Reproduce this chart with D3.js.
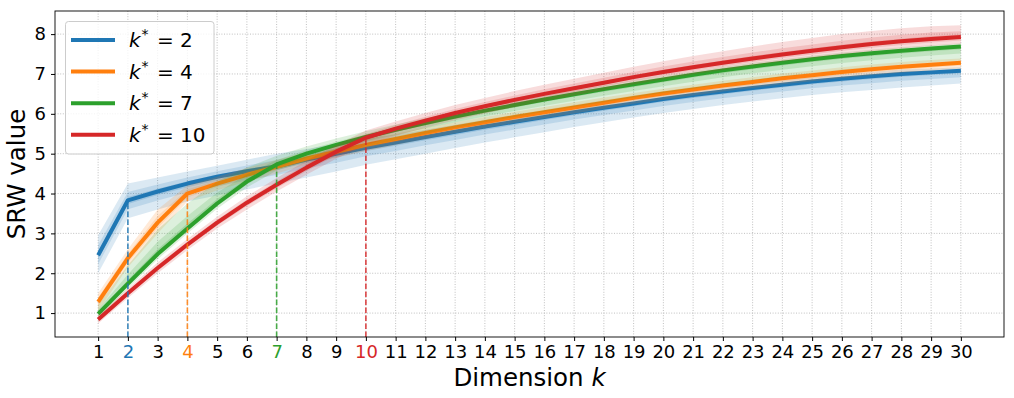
<!DOCTYPE html>
<html>
<head>
<meta charset="utf-8">
<script src="https://cdn.jsdelivr.net/npm/d3@7"></script>
<style>
  body { margin: 0; background: #fff; }
  svg { font-family: "DejaVu Sans", sans-serif; }
  .grid line { stroke: #b0b0b0; stroke-width: 0.8; stroke-dasharray: 1,1.6; }
</style>
</head>
<body>
<div id="chart"></div>
<script>
// dimension k
var dims = d3.range(1, 31);
var kStars = [2, 4, 7, 10];
var colors = ["#1f77b4", "#ff7f0e", "#2ca02c", "#d62728"];

// mean SRW value per dimension
var mean2  = [2.45,3.83,4.05,4.25,4.42,4.56,4.68,4.85,5.0,5.15,5.28,5.42,5.55,5.68,5.8,5.92,6.04,6.15,6.26,6.37,6.47,6.56,6.65,6.73,6.81,6.88,6.94,7.0,7.04,7.08];
var mean4  = [1.28,2.38,3.27,4.0,4.25,4.47,4.67,4.88,5.05,5.22,5.37,5.52,5.66,5.79,5.92,6.04,6.16,6.28,6.4,6.51,6.61,6.71,6.8,6.89,6.97,7.05,7.12,7.18,7.23,7.28];
var mean7  = [0.98,1.74,2.48,3.12,3.75,4.3,4.73,5.0,5.22,5.42,5.6,5.77,5.93,6.08,6.22,6.36,6.49,6.62,6.74,6.86,6.98,7.09,7.19,7.28,7.37,7.45,7.52,7.58,7.64,7.69];
var mean10 = [0.84,1.5,2.13,2.72,3.27,3.77,4.22,4.65,5.05,5.4,5.63,5.83,6.02,6.19,6.35,6.5,6.64,6.78,6.92,7.05,7.17,7.28,7.39,7.49,7.58,7.67,7.75,7.82,7.88,7.93];

// spread (lower / upper) per dimension
var low2  = [2.0,3.38,3.6,3.8,3.95,4.1,4.25,4.4,4.55,4.72,4.86,5.0,5.14,5.28,5.41,5.54,5.67,5.79,5.91,6.02,6.12,6.22,6.31,6.39,6.47,6.54,6.6,6.66,6.71,6.76];
var high2 = [2.95,4.25,4.4,4.55,4.7,4.85,5.0,5.12,5.25,5.38,5.48,5.6,5.72,5.84,5.95,6.06,6.17,6.28,6.38,6.48,6.58,6.67,6.76,6.84,6.92,6.99,7.05,7.11,7.14,7.17];
var low4  = [1.05,2.15,3.0,3.8,4.08,4.3,4.5,4.72,4.9,5.07,5.22,5.37,5.51,5.64,5.77,5.89,6.01,6.13,6.25,6.36,6.46,6.56,6.65,6.74,6.82,6.9,6.97,7.03,7.09,7.14];
var high4 = [1.5,2.6,3.6,4.2,4.42,4.64,4.84,5.04,5.2,5.36,5.5,5.65,5.79,5.92,6.05,6.17,6.29,6.41,6.52,6.63,6.73,6.83,6.92,7.01,7.09,7.17,7.24,7.3,7.35,7.39];
var low7  = [0.88,1.62,2.35,3.0,3.62,4.15,4.58,4.8,5.0,5.18,5.34,5.5,5.65,5.79,5.92,6.05,6.17,6.29,6.41,6.52,6.63,6.74,6.84,6.93,7.02,7.1,7.17,7.24,7.29,7.34];
var high7 = [1.2,2.2,3.1,3.75,4.3,4.65,4.95,5.18,5.38,5.56,5.73,5.89,6.04,6.18,6.32,6.46,6.59,6.72,6.84,6.96,7.07,7.18,7.28,7.37,7.46,7.54,7.61,7.67,7.72,7.77];
var low10  = [0.74,1.38,2.0,2.58,3.12,3.6,4.05,4.47,4.87,5.22,5.45,5.65,5.84,6.01,6.17,6.32,6.46,6.6,6.74,6.87,6.99,7.1,7.21,7.31,7.4,7.49,7.57,7.64,7.7,7.75];
var high10 = [0.95,1.62,2.27,2.86,3.42,3.93,4.39,4.82,5.22,5.58,5.81,6.02,6.22,6.4,6.57,6.73,6.88,7.03,7.18,7.32,7.45,7.57,7.69,7.8,7.9,8.0,8.08,8.15,8.2,8.22];

var yTicks = [1, 2, 3, 4, 5, 6, 7, 8];

var series = [
  {k: 2,  mean: mean2,  low: low2,  high: high2},
  {k: 4,  mean: mean4,  low: low4,  high: high4},
  {k: 7,  mean: mean7,  low: low7,  high: high7},
  {k: 10, mean: mean10, low: low10, high: high10}
];

var W = 1014, H = 398;
var m = {left: 55, right: 1004, top: 11, bottom: 337};

var x = d3.scaleLinear().domain([-0.45, 31.45]).range([m.left, m.right]);
var y = d3.scaleLinear().domain([0.4, 8.58]).range([m.bottom, m.top]);

var svg = d3.select("#chart").append("svg")
  .attr("width", W).attr("height", H);

// grid
var grid = svg.append("g").attr("class", "grid");
grid.selectAll(".gx").data(dims).join("line")
  .attr("x1", d => x(d)).attr("x2", d => x(d))
  .attr("y1", m.top).attr("y2", m.bottom);
grid.selectAll(".gy").data(yTicks).join("line")
  .attr("x1", m.left).attr("x2", m.right)
  .attr("y1", d => y(d)).attr("y2", d => y(d));

var plot = svg.append("g");

series.forEach((s, i) => {
  var c = colors[i];
  var pts = dims.map((d, j) => ({k: d, m: s.mean[j], lo: s.low[j], hi: s.high[j]}));
  var outer = d3.area().x(d => x(d.k)).y0(d => y(d.lo)).y1(d => y(d.hi));
  var inner = d3.area().x(d => x(d.k))
    .y0(d => y(d.m - (d.m - d.lo) * 0.5)).y1(d => y(d.m + (d.hi - d.m) * 0.5));
  var inner2 = d3.area().x(d => x(d.k))
    .y0(d => y(d.m - (d.m - d.lo) * 0.2)).y1(d => y(d.m + (d.hi - d.m) * 0.2));
  plot.append("path").attr("d", outer(pts)).attr("fill", c).attr("fill-opacity", 0.16);
  plot.append("path").attr("d", inner(pts)).attr("fill", c).attr("fill-opacity", 0.16);
  plot.append("path").attr("d", inner2(pts)).attr("fill", c).attr("fill-opacity", 0.2);
  plot.append("path")
    .attr("d", d3.line().x(d => x(d.k)).y(d => y(d.m))(pts))
    .attr("fill", "none").attr("stroke", c).attr("stroke-width", 4)
    .attr("stroke-linejoin", "round");
});

// dashed markers at k*
series.forEach((s, i) => {
  plot.append("line")
    .attr("x1", x(s.k)).attr("x2", x(s.k))
    .attr("y1", m.bottom).attr("y2", y(s.mean[s.k - 1]))
    .attr("stroke", colors[i]).attr("stroke-width", 1.6)
    .attr("stroke-dasharray", "5.5,2.5").attr("opacity", 0.85);
});

// frame
svg.append("rect")
  .attr("x", m.left).attr("y", m.top)
  .attr("width", m.right - m.left).attr("height", m.bottom - m.top)
  .attr("fill", "none").attr("stroke", "#000").attr("stroke-width", 0.9);

// x axis
var xAxis = svg.append("g").attr("transform", `translate(0,${m.bottom})`)
  .call(d3.axisBottom(x).tickValues(dims).tickSize(4).tickPadding(4).tickFormat(d3.format("d")));
xAxis.select(".domain").remove();
xAxis.attr("font-size", 18).attr("font-family", "DejaVu Sans");
xAxis.selectAll("text")
  .attr("fill", d => { var i = kStars.indexOf(d); return i >= 0 ? colors[i] : "#000"; });

// y axis
var yAxis = svg.append("g").attr("transform", `translate(${m.left},0)`)
  .call(d3.axisLeft(y).tickValues(yTicks).tickSize(4).tickPadding(5).tickFormat(d3.format("d")));
yAxis.select(".domain").remove();
yAxis.attr("font-size", 18).attr("font-family", "DejaVu Sans");
yAxis.selectAll("text").attr("fill", "#000");

// axis labels
var xl = svg.append("text").attr("x", (m.left + m.right) / 2).attr("y", 386)
  .attr("text-anchor", "middle").attr("font-size", 24.5);
xl.append("tspan").text("Dimension ");
xl.append("tspan").attr("font-style", "italic").text("k");

svg.append("text")
  .attr("transform", `translate(25,${(m.top + m.bottom) / 2}) rotate(-90)`)
  .attr("text-anchor", "middle").attr("font-size", 24.5).text("SRW value");

// legend
var lg = svg.append("g");
lg.append("rect").attr("x", 65.5).attr("y", 21.5).attr("width", 148.5).attr("height", 132.5)
  .attr("rx", 3).attr("fill", "#fff").attr("fill-opacity", 0.8)
  .attr("stroke", "#cccccc").attr("stroke-width", 1);
series.forEach((s, i) => {
  var ly = 40 + i * 31.6;
  lg.append("line").attr("x1", 71).attr("x2", 115).attr("y1", ly).attr("y2", ly)
    .attr("stroke", colors[i]).attr("stroke-width", 4);
  var t = lg.append("text").attr("x", 129).attr("y", ly + 7).attr("font-size", 20);
  t.append("tspan").attr("font-style", "italic").text("k");
  t.append("tspan").attr("dx", 1).attr("dy", -8).attr("font-size", 14).text("*");
  t.append("tspan").attr("dx", 2).attr("dy", 8).text(" = " + s.k);
});
</script>
</body>
</html>
